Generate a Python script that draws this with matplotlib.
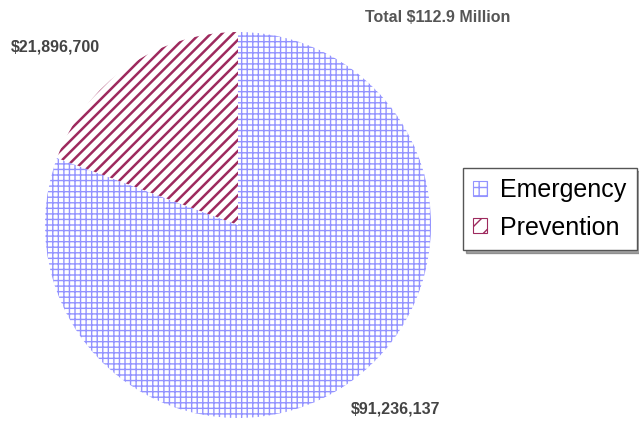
import numpy as np
import matplotlib
matplotlib.use("Agg")
from matplotlib import pyplot as plt
from matplotlib.patches import Patch

plt.rcParams['font.family'] = ['Liberation Sans', 'DejaVu Sans']

# data
categories = ["Emergency", "Prevention"]
values = [91236137, 21896700]
value_labels = ["$91,236,137", "$21,896,700"]
title = "Total $112.9 Million"

hatch_colors = ["#9393ff", "#9e2a5e"]
hatches = ["+++", "///"]
hatch_lw = [1.0, 1.8]

fig = plt.figure(figsize=(6.39, 4.29), dpi=100)
ax = fig.add_axes([45 / 639, 11 / 429, 386 / 639, 386 / 429])

wedges, _ = ax.pie(values, startangle=90, counterclock=False, radius=1.0,
                   wedgeprops=dict(linewidth=0))
for w, h, c, lw in zip(wedges, hatches, hatch_colors, hatch_lw):
    w.set_facecolor("white")
    w.set_edgecolor(c)
    w.set_linewidth(0)
    w.set_hatch(h)
    if hasattr(w, "set_hatch_linewidth"):
        w.set_hatch_linewidth(lw)
ax.set_xlim(-1, 1)
ax.set_ylim(-1, 1)
ax.set_aspect("equal")
ax.axis("off")

# value labels
fig.text(11 / 639, 1 - 47 / 429, value_labels[1], fontsize=11.5, color="#444444",
         va="center", ha="left", fontweight="bold")
fig.text(351 / 639, 1 - 409 / 429, value_labels[0], fontsize=11.5, color="#444444",
         va="center", ha="left", fontweight="bold")
fig.text(365 / 639, 1 - 17 / 429, title, fontsize=11.5, color="#555555",
         va="center", ha="left", fontweight="bold")

handles = []
for c, h in zip(hatch_colors, ["++", "//"]):
    handles.append(Patch(facecolor="white", edgecolor=c, hatch=h, linewidth=0.8))
leg = fig.legend(handles, categories, loc="upper left", bbox_to_anchor=(463 / 639, 1 - 168 / 429),
                 fontsize=18, frameon=True, shadow=True, fancybox=False,
                 edgecolor="#555555", handlelength=0.55, handleheight=0.55,
                 handletextpad=0.55, borderpad=0.4, labelspacing=0.55,
                 borderaxespad=0)
leg.get_frame().set_linewidth(1.0)

fig.savefig("out.png", dpi=100)
